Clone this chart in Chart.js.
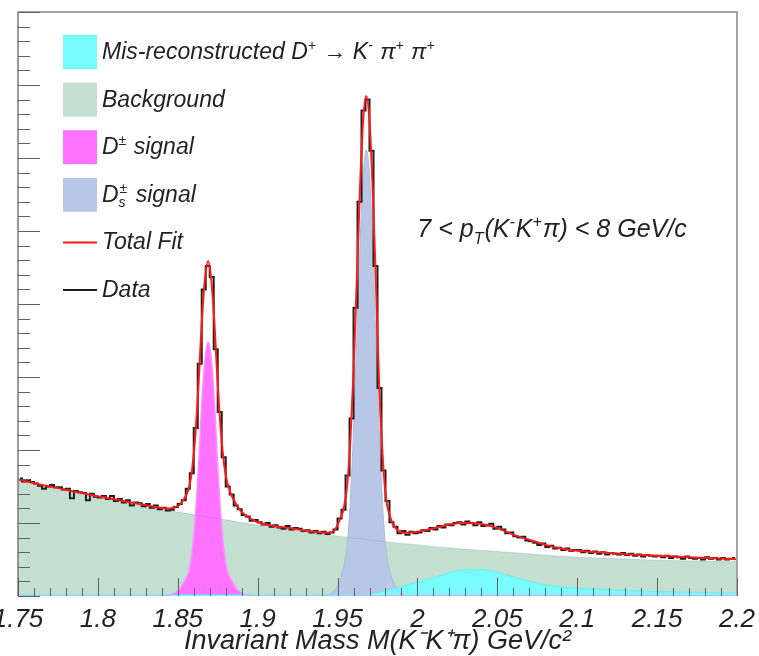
<!DOCTYPE html>
<html>
<head>
<meta charset="utf-8">
<title>Invariant mass fit</title>
<script src="https://cdn.jsdelivr.net/npm/chart.js@4.4.1/dist/chart.umd.min.js"></script>
<style>
  html, body { margin: 0; padding: 0; background: #fff; }
  #wrap { width: 759px; height: 656px; }
</style>
</head>
<body>
<div id="wrap"><canvas id="massChart" width="759" height="656"></canvas></div>
<script>
// histogram binning (GeV/c^2)
const binStart = 1.75
const binWidth = 0.0025

// data counts per bin, 180 bins from 1.75 to 2.2
const dataCounts = [
  161, 157, 159, 156, 154, 151, 147, 150, 152, 149,
  149, 146, 147, 134, 144, 142, 141, 131, 140, 136,
  135, 137, 133, 137, 130, 133, 128, 131, 124, 128,
  127, 123, 126, 121, 124, 119, 121, 117, 118, 122,
  126, 131, 147, 168, 230, 318, 420, 452, 437, 338,
  252, 190, 150, 139, 124, 119, 111, 109, 103, 104,
  101, 98, 100, 95, 97, 94, 92, 96, 91, 93,
  92, 89, 90, 87, 89, 86, 88, 85, 87, 91,
  106, 118, 165, 243, 395, 540, 665, 680, 610, 452,
  285, 172, 130, 101, 95, 86, 89, 84, 88, 86,
  87, 90, 89, 93, 91, 96, 94, 98, 97, 100,
  101, 98, 102, 100, 97, 101, 96, 97, 99, 92,
  95, 91, 86, 87, 82, 80, 81, 76, 75, 73,
  70, 72, 67, 69, 65, 66, 63, 65, 62, 63,
  63, 60, 62, 59, 61, 58, 60, 57, 59, 58,
  57, 59, 56, 58, 55, 57, 54, 56, 55, 54,
  55, 53, 55, 52, 54, 53, 51, 54, 52, 51,
  52, 50, 53, 51, 52, 50, 52, 50, 51, 52
]

// total fit
const fitMass = [
  1.75, 1.76, 1.77, 1.78, 1.79, 1.80, 1.81, 1.82, 1.83, 1.84,
  1.845, 1.849, 1.852, 1.855, 1.857, 1.859, 1.861, 1.863, 1.865, 1.867,
  1.869, 1.871, 1.873, 1.875, 1.877, 1.879, 1.881, 1.884, 1.887, 1.890,
  1.894, 1.90, 1.91, 1.92, 1.93, 1.94, 1.944, 1.948, 1.951, 1.954,
  1.956, 1.958, 1.960, 1.962, 1.964, 1.966, 1.968, 1.970, 1.972, 1.974,
  1.976, 1.978, 1.980, 1.983, 1.986, 1.989, 1.993, 2.00, 2.01, 2.02,
  2.03, 2.04, 2.05, 2.06, 2.07, 2.08, 2.09, 2.10, 2.12, 2.14,
  2.16, 2.18, 2.20
]
const fitYield = [
  159.5, 154.5, 150, 145.5, 141, 136.5, 132.5, 128.5, 124.5, 120.5,
  120, 122, 127, 137, 148.5, 173.5, 221, 290.5, 373.5, 434,
  458.5, 432.5, 371, 290, 225, 180, 155, 136, 124, 115,
  108, 101, 96, 93, 89.5, 87, 86.5, 89.5, 102.5, 121.5,
  151, 212.5, 307.5, 430, 556.5, 651, 685, 651, 556.5, 429.5,
  290, 200, 140, 108, 94, 88, 86.5, 88, 92.5, 98,
  100, 98.5, 93, 84, 77, 70, 65, 62, 59, 56,
  54, 52, 50.5
]

// combinatorial background
const bkgMass = [1.75, 1.775, 1.80, 1.825, 1.85, 1.875, 1.90, 1.925, 1.95, 1.975, 2.0, 2.025, 2.05, 2.075, 2.1, 2.125, 2.15, 2.175, 2.2]
const bkgYield = [158, 146, 135, 125, 115, 106, 97, 89, 82, 75.5, 70, 65, 61, 57, 53, 51, 49, 48, 47]

// D+ signal
const dplusMass = [1.75, 1.839, 1.844, 1.848, 1.851, 1.854, 1.857, 1.859, 1.861, 1.863, 1.865, 1.867, 1.869,
  1.871, 1.873, 1.875, 1.877, 1.879, 1.881, 1.884, 1.887, 1.890, 1.894, 1.899, 2.2]
const dplusYield = [0, 0, 1, 4, 9, 20, 34, 60, 108, 178, 262, 323, 348,
  323, 262, 178, 108, 60, 34, 20, 9, 4, 1, 0, 0]

// Ds signal
const dsMass = [1.938, 1.943, 1.947, 1.950, 1.953, 1.956, 1.958, 1.960, 1.962, 1.964, 1.966, 1.968,
  1.970, 1.972, 1.974, 1.976, 1.978, 1.980, 1.983, 1.986, 1.989, 1.993, 1.998]
const dsYield = [0, 1, 5, 14, 32, 70, 132, 228, 351, 478, 576, 611,
  576, 478, 351, 228, 132, 70, 32, 14, 5, 1, 0]

// mis-reconstructed D+ -> K- pi+ pi+
const misMass = [1.75, 1.80, 1.85, 1.90, 1.95, 1.96, 1.97, 1.98, 1.99, 2.00, 2.01, 2.02, 2.03, 2.04,
  2.05, 2.06, 2.07, 2.08, 2.09, 2.10, 2.125, 2.15, 2.175, 2.2]
const misYield = [1.5, 1.5, 1.5, 1.5, 1.5, 1.5, 3, 7, 13, 19, 25, 32, 36, 36,
  32, 26, 20, 15, 12.5, 10.5, 8, 6, 5, 4]

const massTicks = [1.75, 1.8, 1.85, 1.9, 1.95, 2.0, 2.05, 2.1, 2.15, 2.2]
const massTickLabels = ['1.75', '1.8', '1.85', '1.9', '1.95', '2', '2.05', '2.1', '2.15', '2.2']
const yMax = 800

const FONT = '"Liberation Sans", Arial, Helvetica, sans-serif'
const fontStr = (size) => `italic ${size}px ${FONT}`

const pts = (xs, ys) => xs.map((x, i) => ({ x: x, y: ys[i] }))
const dataPts = dataCounts.map((c, i) => ({ x: binStart + (i + 0.5) * binWidth, y: c }))

const colors = {
  mis: '#78fcff',
  bkg: '#c2dfcf',
  dplus: '#ff72ff',
  ds: '#b8c7e6',
  fit: '#ff1a1a',
  data: '#1e1e1e'
}

// legend text pieces: [text, 'sup' | 'sub' | 'supsub' | undefined]
const legendRows = [
  { color: colors.mis, type: 'box', parts: [['Mis-reconstructed D'], ['+', 'sup'], [' \u2192 K'], ['-', 'sup'], [' \u03c0'], ['+', 'sup'], [' \u03c0'], ['+', 'sup']] },
  { color: colors.bkg, type: 'box', parts: [['Background']] },
  { color: colors.dplus, type: 'box', parts: [['D'], ['\u00b1', 'sup'], [' signal']] },
  { color: colors.ds, type: 'box', parts: [['D'], [['\u00b1', 's'], 'supsub'], [' signal']] },
  { color: colors.fit, type: 'line', parts: [['Total Fit']] },
  { color: colors.data, type: 'line', parts: [['Data']] }
]
const ptLabel = [['7 < p'], ['T', 'sub'], ['(K'], ['-', 'sup'], ['K'], ['+', 'sup'], ['\u03c0) < 8 GeV/c']]

function drawRich(ctx, parts, x, y, size, dry) {
  const small = Math.round(size * 0.62)
  for (const [txt, kind] of parts) {
    if (kind === 'supsub') {
      ctx.font = fontStr(small)
      if (!dry) {
        ctx.fillText(txt[0], x + 1, y - size * 0.4)
        ctx.fillText(txt[1], x, y + size * 0.22)
      }
      x += Math.max(ctx.measureText(txt[0]).width + 1, ctx.measureText(txt[1]).width) + 2
      continue
    }
    ctx.font = fontStr(kind ? small : size)
    const dy = kind === 'sup' ? -size * 0.4 : kind === 'sub' ? size * 0.28 : 0
    if (!dry) ctx.fillText(txt, x, y + dy)
    x += ctx.measureText(txt).width + (kind ? 1 : 0)
  }
  return x
}

const frameAndTicks = {
  id: 'frameAndTicks',
  afterDatasetsDraw(chart) {
    const { ctx, chartArea: a, scales: { x, y } } = chart
    ctx.save()
    // frame
    ctx.strokeStyle = '#a4a4a4'
    ctx.lineWidth = 2
    ctx.beginPath()
    ctx.moveTo(a.left, a.top)
    ctx.lineTo(a.right, a.top)
    ctx.lineTo(a.right, a.bottom)
    ctx.stroke()
    ctx.strokeStyle = '#7a7a7a'
    ctx.lineWidth = 1.5
    ctx.beginPath()
    ctx.moveTo(a.left, a.top)
    ctx.lineTo(a.left, a.bottom)
    ctx.stroke()
    // inward ticks
    ctx.strokeStyle = '#606060'
    ctx.lineWidth = 1
    ctx.beginPath()
    for (let k = 0; k <= 40; k++) {
      const py = Math.round(y.getPixelForValue(k * 20)) + 0.5
      const len = k % 5 === 0 ? 22 : 12
      ctx.moveTo(a.left, py)
      ctx.lineTo(a.left + len, py)
    }
    for (let k = 0; k <= 45; k++) {
      const px = Math.round(x.getPixelForValue(binStart + k * 0.01)) + 0.5
      const len = k % 5 === 0 ? 18 : 8
      ctx.moveTo(px, a.bottom)
      ctx.lineTo(px, a.bottom - len)
    }
    ctx.stroke()
    ctx.restore()
  },
  afterDraw(chart) {
    const { ctx } = chart
    ctx.save()
    ctx.fillStyle = '#222'
    ctx.textBaseline = 'alphabetic'
    // legend
    const top = 52, step = 47.6
    legendRows.forEach((row, i) => {
      const cy = top + i * step
      if (row.type === 'box') {
        ctx.fillStyle = row.color
        ctx.fillRect(63, cy - 17, 34, 34)
      } else {
        ctx.strokeStyle = row.color
        ctx.lineWidth = 2
        ctx.beginPath()
        ctx.moveTo(63, cy)
        ctx.lineTo(97, cy)
        ctx.stroke()
      }
      ctx.fillStyle = '#222'
      drawRich(ctx, row.parts, 102, cy + 7, 23)
    })
    // kinematic range label
    const w = drawRich(ctx, ptLabel, 0, 0, 25, true)
    drawRich(ctx, ptLabel, 552 - w / 2, 237, 25)
    ctx.restore()
  }
}

new Chart(document.getElementById('massChart'), {
  type: 'line',
  data: {
    datasets: [
      {
        label: 'Total Fit',
        data: pts(fitMass, fitYield),
        borderColor: colors.fit,
        borderWidth: 2,
        cubicInterpolationMode: 'monotone',
        fill: false,
        order: 0
      },
      {
        label: 'Data',
        data: dataPts,
        borderColor: colors.data,
        borderWidth: 2,
        stepped: 'middle',
        fill: false,
        order: 1
      },
      {
        label: 'Mis-reconstructed D+ \u2192 K- \u03c0+ \u03c0+',
        data: pts(misMass, misYield),
        borderColor: '#5ef2f6',
        backgroundColor: colors.mis,
        borderWidth: 1,
        cubicInterpolationMode: 'monotone',
        fill: 'origin',
        order: 2
      },
      {
        label: 'Ds\u00b1 signal',
        data: pts(dsMass, dsYield),
        borderColor: '#a9bbe0',
        backgroundColor: colors.ds,
        borderWidth: 1,
        cubicInterpolationMode: 'monotone',
        fill: 'origin',
        order: 3
      },
      {
        label: 'D\u00b1 signal',
        data: pts(dplusMass, dplusYield),
        borderColor: '#ff8cff',
        backgroundColor: colors.dplus,
        borderWidth: 1.5,
        cubicInterpolationMode: 'monotone',
        fill: 'origin',
        order: 4
      },
      {
        label: 'Background',
        data: pts(bkgMass, bkgYield),
        borderColor: 'rgba(80, 120, 150, 0.22)',
        backgroundColor: colors.bkg,
        borderWidth: 1,
        cubicInterpolationMode: 'monotone',
        fill: 'origin',
        order: 5
      }
    ]
  },
  options: {
    responsive: false,
    animation: false,
    events: [],
    layout: { autoPadding: false, padding: { left: 18, right: 22, top: 12, bottom: 0 } },
    elements: { point: { radius: 0 } },
    plugins: {
      legend: { display: false },
      tooltip: { enabled: false },
      filler: { drawTime: 'beforeDatasetsDraw' }
    },
    scales: {
      x: {
        type: 'linear',
        min: 1.75,
        max: 2.2,
        grid: { display: false, drawTicks: false },
        border: { display: false },
        afterBuildTicks: (s) => { s.ticks = massTicks.map(v => ({ value: v })) },
        afterFit: (s) => { s.height = 60; s.paddingLeft = 0; s.paddingRight = 0 },
        ticks: {
          autoSkip: false,
          maxRotation: 0,
          padding: 8,
          color: '#222',
          font: { family: FONT, size: 26, style: 'italic' },
          callback: (v, i) => massTickLabels[i]
        },
        title: {
          display: true,
          text: 'Invariant Mass M(K\u207bK\u207a\u03c0) GeV/c\u00b2',
          color: '#222',
          padding: { top: 0, bottom: 0 },
          font: { family: FONT, size: 27, style: 'italic', lineHeight: 1.05 }
        }
      },
      y: {
        min: 0,
        max: yMax,
        grid: { display: false, drawTicks: false },
        border: { display: false },
        ticks: { display: false },
        afterFit: (s) => { s.width = 0; s.paddingTop = 0; s.paddingBottom = 0 }
      }
    }
  },
  plugins: [frameAndTicks]
})
</script>
</body>
</html>
